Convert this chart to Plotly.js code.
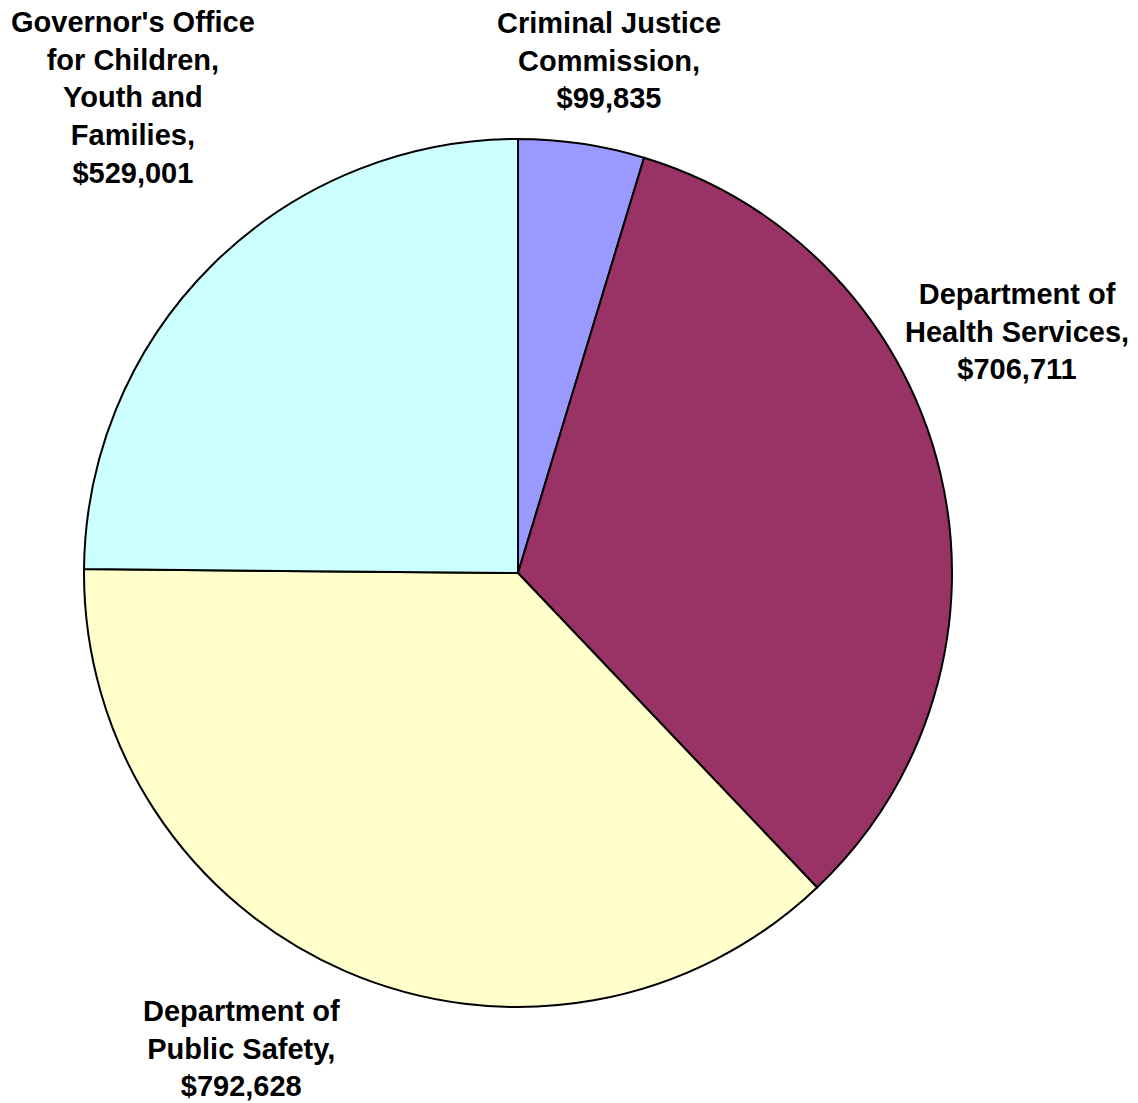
<!DOCTYPE html>
<html>
<head>
<meta charset="utf-8">
<script src="https://cdn.plot.ly/plotly-3.0.1.min.js"></script>
<style>html,body{margin:0;padding:0;background:#fff;}#chart{width:1138px;height:1103px;}</style>
</head>
<body>
<div id="chart"></div>
<script>
// Data
var categories = [
  "Criminal Justice<br>Commission",
  "Department of<br>Health Services",
  "Department of<br>Public Safety",
  "Governor's Office<br>for Children,<br>Youth and<br>Families"
];
var values = [99835, 706711, 792628, 529001];
var colors = ["#9999FF", "#993366", "#FFFFCC", "#CCFFFF"];

// Label placement (pixel centers in the 1138x1103 canvas)
var labelPos = [[609, 60], [1017, 331], [241, 1048], [133, 98]];

var W = 1138, H = 1103;
var cx = 518, cy = 573, r = 434;

function fmt(v) { return "$" + v.toLocaleString("en-US"); }

var trace = {
  type: "pie",
  labels: categories.map(function(c){ return c.replace(/<br>/g, " "); }),
  values: values,
  sort: false,
  direction: "clockwise",
  rotation: 0,
  textinfo: "none",
  hoverinfo: "label+value",
  marker: { colors: colors, line: { color: "#000000", width: 2 } },
  domain: { x: [(cx - r) / W, (cx + r) / W], y: [(H - cy - r) / H, (H - cy + r) / H] },
  showlegend: false
};

var annotations = categories.map(function(c, i) {
  var txt = (c + ",<br>" + fmt(values[i])).split("<br>").map(function(s){ return "<b>" + s + "</b>"; }).join("<br>");
  return {
    xref: "paper", yref: "paper",
    x: labelPos[i][0] / W, y: 1 - labelPos[i][1] / H,
    xanchor: "center", yanchor: "middle",
    text: txt,
    showarrow: false,
    align: "center",
    font: { family: "Liberation Sans, Arial, sans-serif", size: 29, color: "#000000", weight: "bold" }
  };
});

var layout = {
  width: W, height: H,
  margin: { l: 0, r: 0, t: 0, b: 0 },
  paper_bgcolor: "#ffffff",
  plot_bgcolor: "#ffffff",
  showlegend: false,
  annotations: annotations
};

Plotly.newPlot("chart", [trace], layout, { displayModeBar: false, staticPlot: true });
</script>
</body>
</html>
